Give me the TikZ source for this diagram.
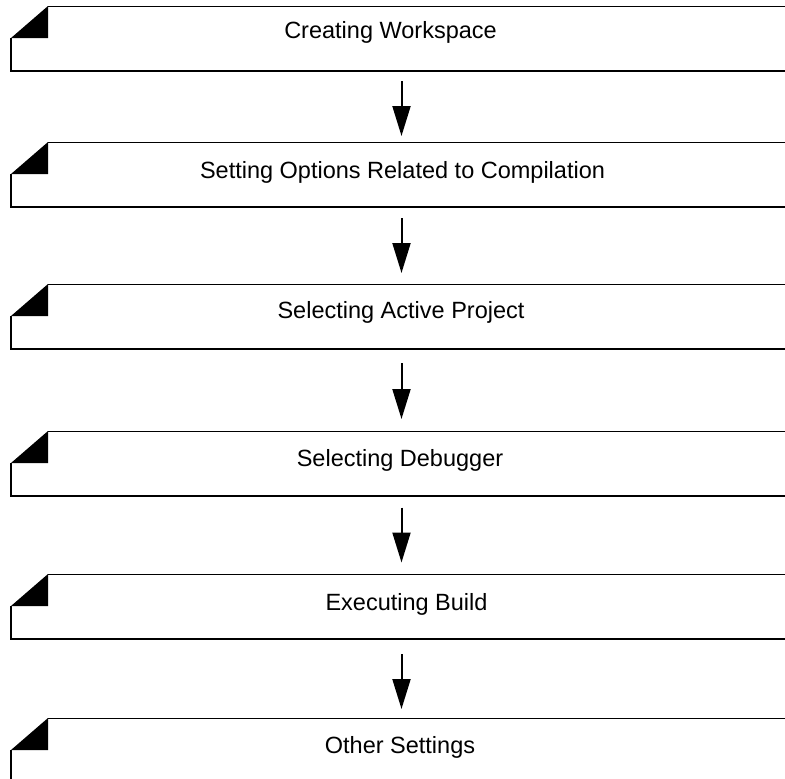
\documentclass[tikz,border=0pt]{standalone}
\usepackage{fontspec}
\setmainfont{Liberation Sans}
\usetikzlibrary{arrows.meta}

\tikzset{
  steplabel/.style={font=\fontsize{23.5}{28}\selectfont, anchor=base, inner sep=0pt},
  flowarrow/.style={-{Triangle[length=30pt,width=18pt]}, line width=2pt},
}

\begin{document}
\begin{tikzpicture}[x=1pt,y=-1pt]
\useasboundingbox (0,0) rectangle (785,779);

% the six steps, each a folded-corner frame
\foreach \name/\ytop/\xtxt/\ybase/\txt in {
    ws/6/390.5/32/Creating Workspace,
    opt/142/402.5/36/Setting Options Related to Compilation,
    proj/284/401/34/Selecting Active Project,
    dbg/431/400/35/Selecting Debugger,
    build/574/406.5/36/Executing Build,
    other/718/400/35/Other Settings} {
  \fill (11,\ytop+32) -- (48,\ytop) -- (48,\ytop+32) -- cycle;
  \draw[line width=1pt] (48,\ytop) -- (790,\ytop);
  \draw[line width=2pt] (11,\ytop+32) -- (11,\ytop+65) -- (790,\ytop+65);
  \node[steplabel] (\name) at (\xtxt,\ytop+\ybase) {\txt};
  \coordinate (\name-top) at (401.5,\ytop);
  \coordinate (\name-bot) at (401.5,\ytop+65);
}

% arrows
\foreach \from/\to/\gapa/\gapb in {ws/opt/10/6, opt/proj/11/11, proj/dbg/14/12,
    dbg/build/11.5/11.5, build/other/15/9}
  \draw[flowarrow, shorten <=\gapa pt, shorten >=\gapb pt] (\from-bot) -- (\to-top);
\end{tikzpicture}
\end{document}
